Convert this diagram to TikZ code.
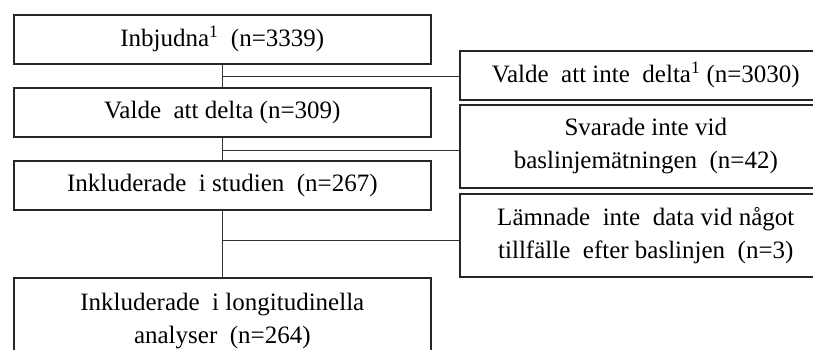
\documentclass[tikz,border=0pt]{standalone}
\usepackage{fontspec}
\setmainfont{Liberation Serif}
\usepackage{tikz}
\usetikzlibrary{calc}
\tikzset{
    box/.style={rectangle, draw=black!85, line width=1.6pt, anchor=north west, inner sep=0pt, align=center, font=\fontsize{25}{33}\selectfont},
    leftbox/.style={box, minimum width=417pt, minimum height=49pt},
    rightbox/.style={box, minimum width=372pt},
    link/.style={draw=black!80, line width=1.3pt},
}

\begin{document}
\begin{tikzpicture}[x=1pt, y=-1pt]
            \useasboundingbox (0,0) rectangle (813,350);
            \clip (0,0) rectangle (813,350);
            % main flow
            \node[leftbox] (inbj) at (13,14) {Inbjudna\textsuperscript{1}\ \ (n=3339)};
            \node[leftbox] (valde) at (13,87) {Valde\ \ att delta (n=309)};
            \node[leftbox] (inkl) at (13,160) {Inkluderade\ \ i studien\ \ (n=267)};
            \node[leftbox, minimum height=86pt] (longi) at (13,277) {Inkluderade\ \ i longitudinella\\ analyser\ \ (n=264)};
            % exclusions
            \node[rightbox, minimum height=49pt] (nodelta) at (459,50) {Valde\ \ att inte\ \ delta\textsuperscript{1} (n=3030)};
            \node[rightbox, minimum height=83pt] (nosvar) at (459,104) {Svarade inte vid\\ baslinjemätningen\ \ (n=42)};
            \node[rightbox, minimum height=83pt] (nodata) at (459,193) {Lämnade\ \ inte\ \ data vid något\\ tillfälle\ \ efter baslinjen\ \ (n=3)};
            % connectors
            \coordinate (j1) at ($(inbj.south)+(0,12)$);
            \coordinate (j2) at ($(valde.south)+(0,13)$);
            \coordinate (j3) at ($(inkl.south)+(0,30)$);
            \draw[link] (inbj.south) -- (valde.north);
            \draw[link] (valde.south) -- (inkl.north);
            \draw[link] (inkl.south) -- (longi.north);
            \draw[link] (j1) -- (j1 -| nodelta.west);
            \draw[link] (j2) -- (j2 -| nosvar.west);
            \draw[link] (j3) -- (j3 -| nodata.west);
\end{tikzpicture}
\end{document}
